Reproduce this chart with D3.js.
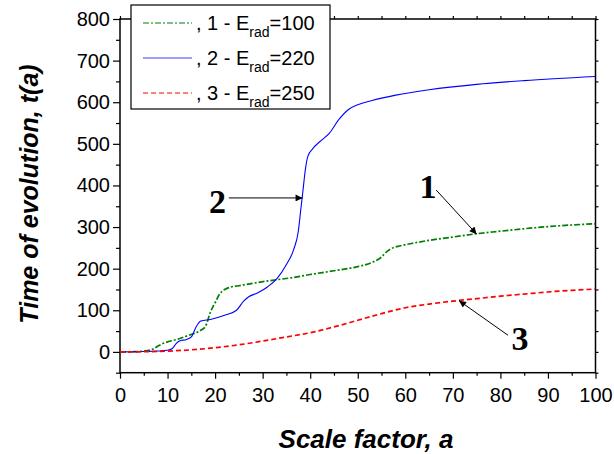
<!DOCTYPE html>
<html><head><meta charset="utf-8">
<script src="https://cdn.jsdelivr.net/npm/d3@7"></script>
<style>body{margin:0;background:#fff}svg{display:block}</style>
</head><body><svg id="c" width="614" height="454"></svg>
<script>
// ---- data ----
const aGreen=[0,3,5,7,8,9,10,12,14,15.5,17,18,19,20,21,22,23,25,28,32,36,40,45,50,53,55,56,57,59,62,65,70,75,80,85,90,95,100];
const tGreen=[0,0.5,2,7,14,20,24,30,38,44,52,62,95,118,140,150,155,159,165,172,178,186,195,205,215,228,240,248,255,262,268,276,284,290,296,301,305,308];
const aBlue=[0,5,10,11,11.8,12.5,14,15,16,17,19,22,24.5,26,27,29,31,33,35,36.5,37.5,38,38.5,39,39.5,40.5,42,44,46,48,50,53,58,65,75,85,100];
const tBlue=[0,1,4,8,20,26,30,36,60,74,78,88,100,122,132,142,156,176,210,245,290,340,390,440,470,488,505,525,558,582,594,604,617,630,643,652,662];
const aRed=[0,5,10,15,20,25,30,35,40,45,50,55,60,65,70,75,80,85,90,95,100];
const tRed=[0,0.5,2,5,10,17,26,36,46,60,76,92,106,115,122,128,134,139,144,148,151];
const seriesNames=[", 1 - E",", 2 - E",", 3 - E"];
const seriesE=["=100","=220","=250"];
const xTicks=[0,10,20,30,40,50,60,70,80,90,100];
const yTicks=[0,100,200,300,400,500,600,700,800];
const annLabels=["1","2","3"];
const annFrom=[[66.5,389],[22.9,370],[81.6,40]];
const annTo=[[75,283],[38.4,370],[71.3,123]];
const annText=[[64.8,369],[20.5,334],[84.1,4.6]];

const svg=d3.select("#c");
const X0=120,X1=595.5,Y0=372.7,Y1=19;
const x=d3.scaleLinear().domain([0,100]).range([X0,X1]);
const y=d3.scaleLinear().domain([-50,800]).range([Y0,Y1]);

svg.append("defs").append("clipPath").attr("id","clip").append("rect")
 .attr("x",X0).attr("y",Y1).attr("width",X1-X0).attr("height",Y0-Y1);
const mk=svg.select("defs").append("marker").attr("id","arr").attr("viewBox","0 0 10 10")
 .attr("refX",10).attr("refY",5).attr("markerWidth",9).attr("markerHeight",7).attr("markerUnits","userSpaceOnUse")
 .attr("orient","auto");
mk.append("path").attr("d","M0,0L10,5L0,10z").attr("fill","#000");

const font="Liberation Sans, Arial, sans-serif";
// axes
const gx=svg.append("g").attr("transform",`translate(0,${Y0})`)
 .call(d3.axisBottom(x).tickValues(xTicks).tickSize(6).tickPadding(8).tickFormat(d3.format("d")));
const gxm=svg.append("g").attr("transform",`translate(0,${Y0})`)
 .call(d3.axisBottom(x).tickValues(d3.range(5,100,10)).tickSize(3).tickFormat(""));
const gy=svg.append("g").attr("transform",`translate(${X0},0)`)
 .call(d3.axisLeft(y).tickValues(yTicks).tickSize(7).tickPadding(3).tickFormat(d3.format("d")));
const gym=svg.append("g").attr("transform",`translate(${X0},0)`)
 .call(d3.axisLeft(y).tickValues([-50,50,150,250,350,450,550,650,750]).tickSize(4).tickFormat(""));
const gt=svg.append("g").attr("transform",`translate(0,${Y1})`)
 .call(d3.axisTop(x).tickValues(d3.range(0,101,5)).tickSize(3).tickFormat(""));
const gr=svg.append("g").attr("transform",`translate(${X1},0)`)
 .call(d3.axisRight(y).tickValues(d3.range(-50,801,50)).tickSize(3).tickFormat(""));
[gx,gxm,gy,gym,gt,gr].forEach(g=>{g.selectAll("path.domain").remove();g.selectAll("line").attr("stroke","#000").attr("stroke-width",1.2);});
[gx,gy].forEach(g=>g.selectAll("text").attr("font-family",font).attr("font-size",20).attr("fill","#000"));
gx.selectAll("text").attr("dy","0.75em");
// frame
svg.append("rect").attr("x",X0).attr("y",Y1).attr("width",X1-X0).attr("height",Y0-Y1)
 .attr("fill","none").attr("stroke","#000").attr("stroke-width",1.5);

// lines
const line=d3.line().x(d=>x(d[0])).y(d=>y(d[1])).curve(d3.curveMonotoneX);
const plot=svg.append("g").attr("clip-path","url(#clip)");
const series=[
 {a:aGreen,t:tGreen,c:"#008000",w:1.7,dash:"6,2,2,2"},
 {a:aBlue,t:tBlue,c:"#0000ff",w:1.1,dash:null},
 {a:aRed,t:tRed,c:"#ff0000",w:1.7,dash:"5,3"}
];
series.forEach(s=>{
 plot.append("path").datum(s.a.map((v,i)=>[v,s.t[i]])).attr("d",line)
  .attr("fill","none").attr("stroke",s.c).attr("stroke-width",s.w).attr("stroke-dasharray",s.dash);
});

// annotations
annLabels.forEach((l,i)=>{
 svg.append("line").attr("x1",x(annFrom[i][0])).attr("y1",y(annFrom[i][1]))
  .attr("x2",x(annTo[i][0])).attr("y2",y(annTo[i][1])).attr("stroke","#000").attr("stroke-width",1)
  .attr("marker-end","url(#arr)");
 svg.append("text").attr("x",x(annText[i][0])).attr("y",y(annText[i][1])).attr("text-anchor","middle")
  .attr("font-family","Liberation Serif, Times New Roman, serif").attr("font-weight","bold").attr("font-size",34).text(l);
});

// legend
svg.append("rect").attr("x",131).attr("y",5).attr("width",199).attr("height",104)
 .attr("fill","#fff").attr("stroke","#000").attr("stroke-width",1.2);
series.forEach((s,i)=>{
 const ly=23+i*35;
 svg.append("line").attr("x1",143).attr("x2",192).attr("y1",ly).attr("y2",ly)
  .attr("stroke",s.c).attr("stroke-width",s.w*0.7).attr("stroke-dasharray",s.dash);
 const t=svg.append("text").attr("x",196).attr("y",ly+7).attr("font-family",font).attr("font-size",20).attr("fill","#000");
 t.append("tspan").text(seriesNames[i]);
 t.append("tspan").attr("font-size",14).attr("dy",7).text("rad");
 t.append("tspan").attr("dy",-7).text(seriesE[i]);
});

// axis titles
svg.append("text").attr("x",366).attr("y",448).attr("text-anchor","middle").attr("font-family",font)
 .attr("font-weight","bold").attr("font-style","italic").attr("font-size",26).text("Scale factor, a");
svg.append("text").attr("transform","translate(38,194) rotate(-90)").attr("text-anchor","middle").attr("font-family",font)
 .attr("font-weight","bold").attr("font-style","italic").attr("font-size",25).text("Time of evolution, t(a)");
</script></body></html>
